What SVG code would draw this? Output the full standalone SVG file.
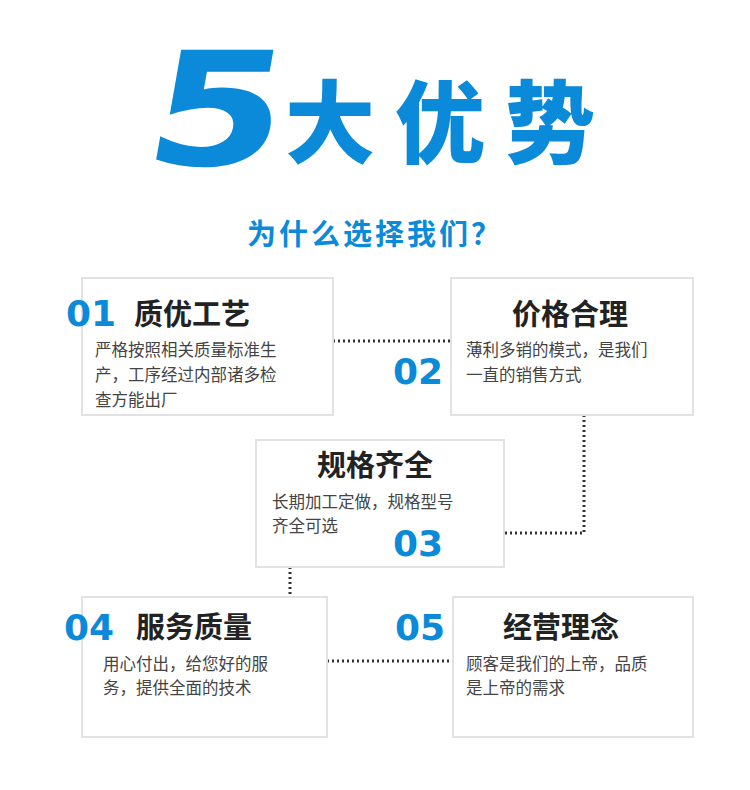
<svg xmlns="http://www.w3.org/2000/svg" width="750" height="790" viewBox="0 0 750 790">
<style>
.box{fill:#fff;stroke:#e2e2e2;stroke-width:2}
.num{font-family:"DejaVu Sans",sans-serif;font-weight:bold;font-size:36px;fill:#0a8ad8}
.t{font-family:"Noto Sans CJK SC",sans-serif;font-weight:bold;font-size:29px;fill:#222}
.b{font-family:"Noto Sans CJK SC",sans-serif;font-size:16.5px;fill:#444}
.c{fill:none;stroke:#333;stroke-width:3;stroke-dasharray:2 3}
</style>
<rect width="750" height="790" fill="#fff"/>
<g id="title">
<text font-family="'DejaVu Sans',sans-serif" font-weight="bold" font-size="158" fill="#0a8ad8" transform="translate(140,165) scale(1.25,1) skewX(-8)">5</text>
<text x="285" y="156" font-family="'Noto Sans CJK SC',sans-serif" font-weight="900" font-size="90" fill="#0a8ad8" letter-spacing="20">大优势</text>
<text x="375" y="245" text-anchor="middle" font-family="'Noto Sans CJK SC',sans-serif" font-weight="bold" font-size="29" fill="#0a8ad8" letter-spacing="3">为什么选择我们？</text>
</g>
<g id="connectors">
<path class="c" d="M333 341H451"/>
<path class="c" d="M584 415V533H504"/>
<path class="c" d="M290 567V597"/>
<path class="c" d="M327 661H453"/>
</g>
<g id="n1">
<rect class="box" x="82" y="278" width="251" height="137"/>
<text class="num" x="66" y="326">01</text>
<text class="t" x="134" y="325">质优工艺</text>
<text class="b" x="95" y="356">严格按照相关质量标准生</text>
<text class="b" x="95" y="381">产，工序经过内部诸多检</text>
<text class="b" x="95" y="406">查方能出厂</text>
</g>
<g id="n2">
<rect class="box" x="451" y="278" width="242" height="137"/>
<text class="t" x="570" y="325" text-anchor="middle">价格合理</text>
<text class="b" x="466" y="356">薄利多销的模式，是我们</text>
<text class="b" x="466" y="381">一直的销售方式</text>
<text class="num" x="393" y="384">02</text>
</g>
<g id="n3">
<rect class="box" x="256" y="440" width="248" height="127"/>
<text class="t" x="375" y="476" text-anchor="middle">规格齐全</text>
<text class="b" x="272" y="508">长期加工定做，规格型号</text>
<text class="b" x="272" y="532">齐全可选</text>
<text class="num" x="393" y="556">03</text>
</g>
<g id="n4">
<rect class="box" x="82" y="597" width="245" height="140"/>
<text class="num" x="64" y="640">04</text>
<text class="t" x="136" y="638">服务质量</text>
<text class="b" x="103" y="670">用心付出，给您好的服</text>
<text class="b" x="103" y="694">务，提供全面的技术</text>
</g>
<g id="n5">
<rect class="box" x="453" y="597" width="240" height="140"/>
<text class="num" x="395" y="640">05</text>
<text class="t" x="503" y="638">经营理念</text>
<text class="b" x="466" y="670">顾客是我们的上帝，品质</text>
<text class="b" x="466" y="694">是上帝的需求</text>
</g>
</svg>
